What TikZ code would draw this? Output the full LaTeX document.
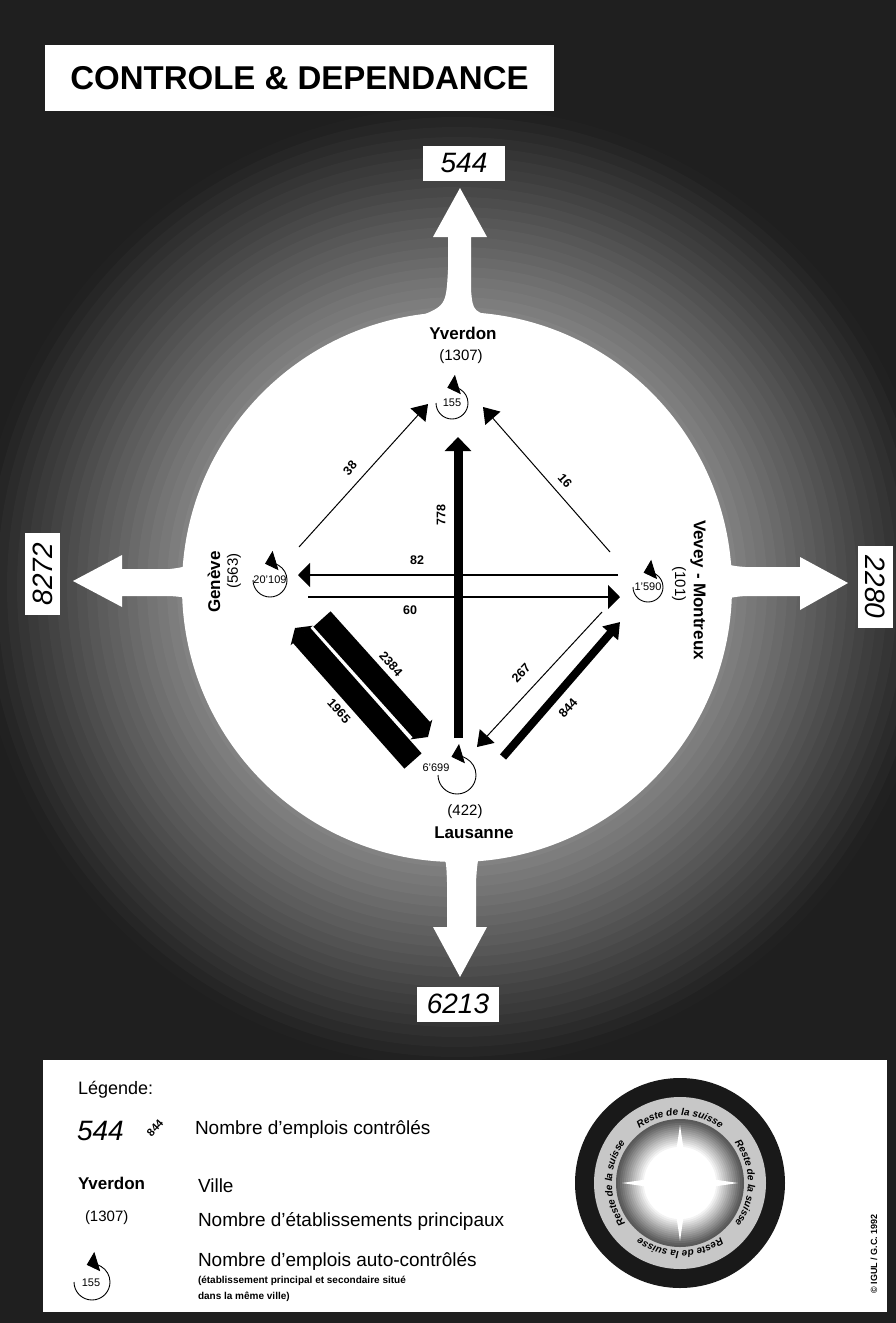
\documentclass[tikz,border=0pt]{standalone}
\usepackage{fontspec}
\setmainfont{Liberation Sans}
\usetikzlibrary{arrows.meta,decorations.text,calc}
\begin{document}
\begin{tikzpicture}[x=1pt,y=-1pt,
  every node/.style={inner sep=0pt, outer sep=0pt},
  boxnum/.style={fill=white, font=\fontsize{28}{30}\selectfont\itshape, minimum width=82pt, minimum height=35pt},
  city/.style={font=\fontsize{17}{18}\selectfont\bfseries},
  count/.style={font=\fontsize{15}{16}\selectfont},
  flowlbl/.style={font=\fontsize{12.5}{13}\selectfont\bfseries},
  selfnum/.style={font=\fontsize{11}{12}\selectfont},
  thinflow/.style={line width=1pt, -{Triangle[length=15pt,width=20pt]}},
  medflow/.style={line width=2pt, -{Triangle[length=12pt,width=24pt]}},
  fatflow/.style={line width=9pt, -{Triangle[length=14pt,width=26pt]}},
  bandflow/.style={line width=8pt, -{Triangle[length=15pt,width=20pt]}},
  hugeflow/.style={line width=23pt, -{Triangle[length=10pt,width=29pt]}},
  selfloop/.style={line width=0.9pt, -{Triangle[length=11pt,width=20pt]}},
  bigarrow/.style={fill=white},
  legtext/.style={font=\fontsize{19}{22}\selectfont, anchor=base west},
  ringtext/.style={decorate, decoration={text along path, text align=center,
     text={|\fontsize{10}{11}\selectfont\bfseries\itshape|Reste de la suisse}}},
]
\useasboundingbox (0,0) rectangle (896,1323);
% ---------- background halo ----------
\fill[black!88] (0,0) rectangle (896,1323);
\begin{scope}
  \clip (0,0) rectangle (896,1323);
  \foreach \r in {560,550,...,280} {
    \pgfmathsetmacro\g{min(88,48+(\r-275)*0.19)}
    \fill[black!\g] (457,587) circle (\r);
  }
\end{scope}
\fill[white] (457,587) circle (275);
% ---------- big white arrows ----------
\fill[bigarrow] (400,335) -- (415,318) .. controls (446,306) .. (448,270) -- (448,237) -- (433,237)
   -- (460,188) -- (487,237) -- (471,237) -- (471,290) .. controls (473,312) .. (500,318) -- (510,335) -- cycle;
\fill[bigarrow] (400,830) -- (420,845) .. controls (446,852) .. (447,882) -- (447,927) -- (433,927)
   -- (460,977) -- (487,927) -- (476,927) -- (476,882) .. controls (478,850) .. (505,840) -- (520,820) -- cycle;
\fill[bigarrow] (230,520) -- (198,535) .. controls (193,566) .. (170,569) -- (122,569) -- (122,555)
   -- (73,581) -- (122,607) -- (122,596) -- (170,596) .. controls (196,598) .. (200,630) -- (230,650) -- cycle;
\fill[bigarrow] (690,520) -- (718,535) .. controls (722,565) .. (745,567) -- (800,567) -- (800,557)
   -- (848,583) -- (800,610) -- (800,596) -- (745,596) .. controls (722,598) .. (715,630) -- (690,650) -- cycle;
% ---------- title and outer numbers ----------
\node[fill=white, minimum width=509pt, minimum height=66pt, font=\fontsize{33}{36}\selectfont\bfseries]
   (title) at (299.5,78) {CONTROLE \& DEPENDANCE};
\node[boxnum] (outN) at (464,163) {544};
\node[boxnum] (outS) at (458,1004) {6213};
\node[boxnum, rotate=90] (outW) at (42.5,574) {8272};
\node[boxnum, rotate=-90] (outE) at (875.5,587) {2280};
% ---------- cities ----------
\node[city] (yverdon) at (463,333) {Yverdon};
\node[count] (yverdonN) at (461,357) {(1307)};
\node[city, rotate=90] (geneve) at (214,582) {Genève};
\node[count, rotate=90] (geneveN) at (234,571) {(563)};
\node[city, rotate=-90] (vevey) at (698,590) {Vevey - Montreux};
\node[count, rotate=-90] (veveyN) at (679,584) {(101)};
\node[count] (lausanneN) at (465,812) {(422)};
\node[city] (lausanne) at (474,833) {Lausanne};
% ---------- self loops ----------
\coordinate (yvC) at (452,403);
\coordinate (geC) at (270,580);
\coordinate (veC) at (648,587);
\coordinate (laC) at (457,775);
\draw[selfloop] ($(yvC)+(180:16)$) arc[start angle=180, end angle=-107, radius=16];
\node[selfnum] (yvS) at (yvC) {155};
\draw[selfloop] ($(geC)+(180:17)$) arc[start angle=180, end angle=-107, radius=17];
\node[selfnum] (geS) at (geC) {20'109};
\draw[selfloop] ($(veC)+(180:15)$) arc[start angle=180, end angle=-107, radius=15];
\node[selfnum] (veS) at (veC) {1'590};
\draw[selfloop] ($(laC)+(180:19)$) arc[start angle=180, end angle=-107, radius=19];
\node[selfnum] (laS) at (436,768) {6'699};
% ---------- flows ----------
\coordinate (g38) at (299,547);   \coordinate (y38) at (428,404);
\coordinate (v16) at (610,552);   \coordinate (y16) at (483,407);
\coordinate (v82) at (618,575);   \coordinate (g82) at (298,575);
\coordinate (g60) at (308,597);   \coordinate (v60) at (620,597);
\coordinate (l778) at (458,738);  \coordinate (y778) at (458,437);
\coordinate (v267) at (602,612);  \coordinate (l267) at (477,747);
\coordinate (l844) at (503,757);  \coordinate (v844) at (620,622);
\coordinate (g2384) at (322,619); \coordinate (l2384) at (428,737);
\coordinate (l1965) at (413,761); \coordinate (g1965) at (295,628);
\draw[thinflow] (g38) -- (y38);
\draw[thinflow] (v16) -- (y16);
\draw[medflow] (v82) -- (g82);
\draw[medflow] (g60) -- (v60);
\draw[thinflow] (v267) -- (l267);
\draw[bandflow] (l844) -- (v844);
\draw[hugeflow] (g2384) -- (l2384);
\draw[hugeflow] (l1965) -- (g1965);
\draw[fatflow] (l778) -- (y778);
\node[flowlbl, rotate=48] (t38) at (350,468) {38};
\node[flowlbl, rotate=-49] (t16) at (565,481) {16};
\node[flowlbl] (t82) at (417,560) {82};
\node[flowlbl] (t60) at (410,610) {60};
\node[flowlbl, rotate=90] (t778) at (441,515) {778};
\node[flowlbl, rotate=-48] (t2384) at (391,664) {2384};
\node[flowlbl, rotate=-48] (t1965) at (339,711) {1965};
\node[flowlbl, rotate=47] (t267) at (521,673) {267};
\node[flowlbl, rotate=48] (t844) at (568,708) {844};
% ---------- legend ----------
\node[fill=white, minimum width=844pt, minimum height=252pt] (legend) at (465,1186) {};
\node[font=\fontsize{18}{20}\selectfont, anchor=base west] (legT) at (78,1094) {Légende:};
\node[font=\fontsize{28}{30}\selectfont\itshape, anchor=base west] (leg544) at (77,1140) {544};
\node[font=\fontsize{11}{12}\selectfont\bfseries, rotate=48] (leg844) at (155,1128) {844};
\node[legtext] (legA) at (195,1134) {Nombre d'emplois contrôlés};
\node[font=\fontsize{17}{18}\selectfont\bfseries, anchor=base west] (legY) at (78,1189) {Yverdon};
\node[legtext] (legB) at (198,1192) {Ville};
\node[font=\fontsize{15}{16}\selectfont, anchor=base west] (legN) at (85,1221) {(1307)};
\node[legtext] (legC) at (198,1226) {Nombre d'établissements principaux};
\coordinate (legC0) at (92,1282);
\draw[selfloop] ($(legC0)+(180:18)$) arc[start angle=180, end angle=-107, radius=18];
\node[selfnum] (legS) at (91,1283) {155};
\node[legtext] (legD) at (198,1266) {Nombre d'emplois auto-contrôlés};
\node[font=\fontsize{10}{11}\selectfont\bfseries, anchor=base west] (legE) at (198,1283)
   {(établissement principal et secondaire situé};
\node[font=\fontsize{10}{11}\selectfont\bfseries, anchor=base west] (legF) at (198,1299) {dans la même ville)};
% legend ring icon
\coordinate (ring) at (680,1183);
\fill[black!90] (ring) circle (105);
\fill[black!22] (ring) circle (86);
\foreach \r in {64,62,...,36} {
  \pgfmathsetmacro\g{max(0,min(65,(\r-36)*2.4))}
  \fill[black!\g] (ring) circle (\r);
}
\fill[white] (ring) circle (36);
\foreach \a in {0,90,180,270} {
  \fill[white, rotate around={\a:(ring)}] ($(ring)+(0,-58)$) -- ($(ring)+(3.5,-34)$) -- ($(ring)+(-3.5,-34)$) -- cycle;
}
\path[ringtext] ($(ring)+(-132:68)$) arc[start angle=-132, end angle=-48, radius=68];
\path[ringtext] ($(ring)+(-42:68)$) arc[start angle=-42, end angle=42, radius=68];
\path[ringtext] ($(ring)+(48:68)$) arc[start angle=48, end angle=132, radius=68];
\path[ringtext] ($(ring)+(138:68)$) arc[start angle=138, end angle=222, radius=68];
\node[font=\fontsize{9}{10}\selectfont\bfseries, rotate=90] (copy) at (874,1254) {\textcopyright\ IGUL / G.C. 1992};
\end{tikzpicture}
\end{document}
